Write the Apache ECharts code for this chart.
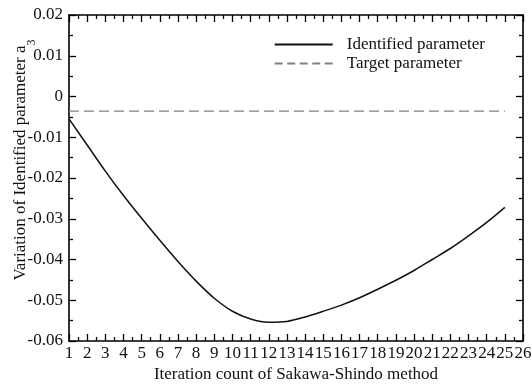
<!DOCTYPE html>
<html><head><meta charset="utf-8">
<script src="https://cdn.jsdelivr.net/npm/echarts@6/dist/echarts.min.js"></script>
<style>html,body{margin:0;padding:0;background:#fff}#c{width:532px;height:386px}</style>
</head><body><div id="c"></div>
<script>
var iterations = [1,2,3,4,5,6,7,8,9,10,11,12,13,14,15,16,17,18,19,20,21,22,23,24,25];
var identified = [-0.0055,-0.0119,-0.0183,-0.0243,-0.0299,-0.0353,-0.0405,-0.0453,-0.0495,-0.0527,-0.0546,-0.0554,-0.0552,-0.0541,-0.0527,-0.0512,-0.0494,-0.0473,-0.0451,-0.0427,-0.0400,-0.0373,-0.0342,-0.0309,-0.0272];
var targetX = [1, 25];
var targetY = [-0.0036, -0.0036];
var xTicks = [1,2,3,4,5,6,7,8,9,10,11,12,13,14,15,16,17,18,19,20,21,22,23,24,25,26];
var yTicks = [0.02,0.01,0,-0.01,-0.02,-0.03,-0.04,-0.05,-0.06];

var FONT = 'Liberation Serif';
var FS = 17;
var chart = echarts.init(document.getElementById('c'));
var axisBase = {
  axisLine:{show:true,onZero:false,lineStyle:{color:'#000',width:1.6}},
  axisTick:{show:true,inside:true,length:7,lineStyle:{color:'#000',width:1.3}},
  minorTick:{show:true,splitNumber:2,length:4,lineStyle:{color:'#000',width:1.3}},
  splitLine:{show:false}
};
chart.setOption({
  animation:false,
  grid:{left:69,right:9,top:15,bottom:45,containLabel:false,outerBoundsMode:'none'},
  legend:{
    right:42, top:31, orient:'vertical', itemWidth:58, itemHeight:2, itemGap:2,
    textStyle:{fontFamily:FONT,fontSize:FS,color:'#111',padding:[0,0,0,9]},
    data:[
      {name:'Identified parameter',icon:'path://M0,0H58V2H0Z',itemStyle:{color:'#111'}},
      {name:'Target parameter',icon:'path://M0,0h8v2h-8z M12.5,0h8v2h-8z M25,0h8v2h-8z M37.5,0h8v2h-8z M50,0h8v2h-8z',itemStyle:{color:'#808080'}}
    ]
  },
  xAxis:[
    Object.assign({},axisBase,{type:'value',min:1,max:26,interval:1,position:'bottom',
      axisLabel:{fontFamily:FONT,fontSize:FS,color:'#111',margin:4,
        formatter:function(v){return xTicks.indexOf(v)>=0?String(v):'';}},
      name:'Iteration count of Sakawa-Shindo method',nameLocation:'middle',nameGap:25,nameMoveOverlap:false,
      nameTextStyle:{fontFamily:FONT,fontSize:FS,color:'#111'}}),
    Object.assign({},axisBase,{type:'value',min:1,max:26,interval:1,position:'top',axisLabel:{show:false}})
  ],
  yAxis:[
    Object.assign({},axisBase,{type:'value',min:-0.06,max:0.02,interval:0.01,position:'left',
      axisLabel:{fontFamily:FONT,fontSize:FS,color:'#111',margin:6,
        formatter:function(v){var r=Math.round(v*100)/100; return yTicks.indexOf(r)>=0?String(r):'';}},
      name:'{a|Variation of Identified parameter a}{s|3}',nameLocation:'middle',nameGap:40,nameMoveOverlap:false,
      nameTextStyle:{padding:[0,0,0,36],rich:{a:{fontFamily:FONT,fontSize:FS,color:'#111'},s:{fontFamily:FONT,fontSize:12,color:'#111',verticalAlign:'bottom',padding:[0,0,-9,0]}}}}),
    Object.assign({},axisBase,{type:'value',min:-0.06,max:0.02,interval:0.01,position:'right',axisLabel:{show:false}})
  ],
  series:[
    {name:'Identified parameter',type:'line',symbol:'none',smooth:0.3,
      lineStyle:{color:'#111',width:1.5},itemStyle:{color:'#111'},
      data:iterations.map(function(x,i){return [x,identified[i]];})},
    {name:'Target parameter',type:'line',symbol:'none',
      lineStyle:{color:'#808080',width:1.3,type:[10,5]},itemStyle:{color:'#808080'},
      data:targetX.map(function(x,i){return [x,targetY[i]];})}
  ]
});
</script></body></html>
